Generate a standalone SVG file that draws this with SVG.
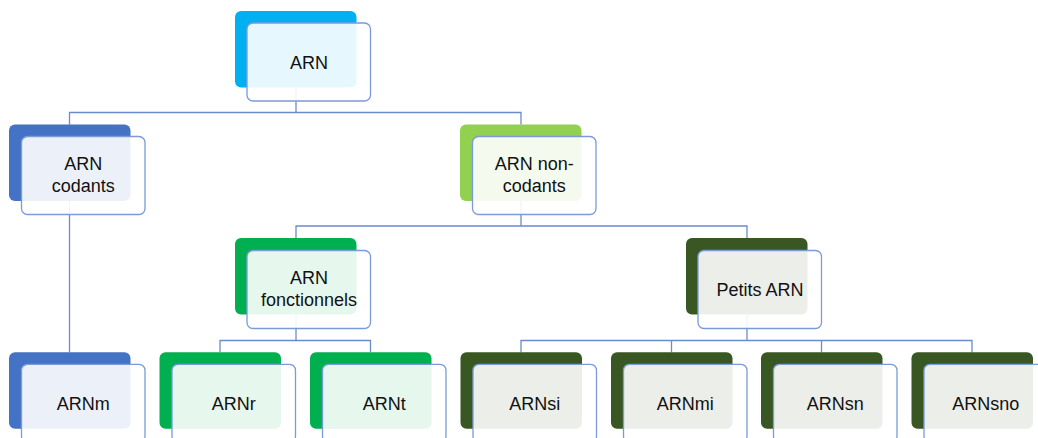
<svg xmlns="http://www.w3.org/2000/svg" width="1038" height="438" viewBox="0 0 1038 438">
<style>
.bk{stroke:none}
.fr{fill:#ffffff;fill-opacity:0.9;stroke:#7b9ad7;stroke-width:1.3}
.c1{fill:#00b0f0}.c2{fill:#4472c4}.c3{fill:#92d050}.c4{fill:#00b050}.c5{fill:#385723}
.con{fill:none;stroke:#6a8bcc;stroke-width:1.3}
text{font-family:"Liberation Sans",Arial,sans-serif;font-size:18px;fill:#111;text-anchor:middle}
</style>
<rect width="1038" height="438" fill="#ffffff"/>
<g id="connectors">
<path class="con" d="M296,87.5V112.5"/>
<path class="con" d="M69.5,124.5V112.5H521V124.5"/>
<path class="con" d="M69.5,201V352.3"/>
<path class="con" d="M521,201V226"/>
<path class="con" d="M296,238V226H747V238"/>
<path class="con" d="M296,315V340.5"/>
<path class="con" d="M220,352.3V340.5H370.5V352.3"/>
<path class="con" d="M747,315V340.5"/>
<path class="con" d="M521,352.3V340.5H972V352.3"/>
<path class="con" d="M671.5,340.5V352.3"/>
<path class="con" d="M821.5,340.5V352.3"/>
</g>
<g id="n-arn">
<rect class="bk c1" x="235" y="11" width="121.5" height="76.5" rx="6"/>
<rect class="fr" x="247" y="23" width="123.5" height="78" rx="6"/>
<text x="309" y="68.5">ARN</text>
</g>
<g id="n-codants">
<rect class="bk c2" x="9" y="124.5" width="121.5" height="76.5" rx="6"/>
<rect class="fr" x="21.5" y="136.5" width="123.5" height="78" rx="6"/>
<text x="83.3" y="170">ARN</text>
<text x="83.3" y="191.7">codants</text>
</g>
<g id="n-noncodants">
<rect class="bk c3" x="460" y="124.5" width="121.5" height="76.5" rx="6"/>
<rect class="fr" x="472.5" y="136.5" width="123.5" height="78" rx="6"/>
<text x="534.3" y="169.5">ARN non-</text>
<text x="534.3" y="191.7">codants</text>
</g>
<g id="n-fonctionnels">
<rect class="bk c4" x="235" y="238" width="121.5" height="76.5" rx="6"/>
<rect class="fr" x="247" y="250.5" width="123.5" height="78" rx="6"/>
<text x="309" y="283.5">ARN</text>
<text x="309" y="306">fonctionnels</text>
</g>
<g id="n-petits">
<rect class="bk c5" x="686" y="238" width="121.5" height="76.5" rx="6"/>
<rect class="fr" x="698" y="250.5" width="123.5" height="78" rx="6"/>
<text x="760" y="296">Petits ARN</text>
</g>
<g id="n-arnm">
<rect class="bk c2" x="9" y="352.3" width="121.5" height="76.5" rx="6"/>
<rect class="fr" x="21.5" y="364.3" width="123.5" height="78" rx="6"/>
<text x="83.3" y="410">ARNm</text>
</g>
<g id="n-arnr">
<rect class="bk c4" x="159.5" y="352.3" width="121.5" height="76.5" rx="6"/>
<rect class="fr" x="172" y="364.3" width="123.5" height="78" rx="6"/>
<text x="233.7" y="410">ARNr</text>
</g>
<g id="n-arnt">
<rect class="bk c4" x="310" y="352.3" width="121.5" height="76.5" rx="6"/>
<rect class="fr" x="322.5" y="364.3" width="123.5" height="78" rx="6"/>
<text x="384.3" y="410">ARNt</text>
</g>
<g id="n-arnsi">
<rect class="bk c5" x="460.5" y="352.3" width="121.5" height="76.5" rx="6"/>
<rect class="fr" x="473" y="364.3" width="123.5" height="78" rx="6"/>
<text x="534.8" y="410">ARNsi</text>
</g>
<g id="n-arnmi">
<rect class="bk c5" x="611" y="352.3" width="121.5" height="76.5" rx="6"/>
<rect class="fr" x="623.5" y="364.3" width="123.5" height="78" rx="6"/>
<text x="685.3" y="410">ARNmi</text>
</g>
<g id="n-arnsn">
<rect class="bk c5" x="761" y="352.3" width="121.5" height="76.5" rx="6"/>
<rect class="fr" x="773.5" y="364.3" width="123.5" height="78" rx="6"/>
<text x="835.3" y="410">ARNsn</text>
</g>
<g id="n-arnsno">
<rect class="bk c5" x="911.5" y="352.3" width="121.5" height="76.5" rx="6"/>
<rect class="fr" x="924" y="364.3" width="123.5" height="78" rx="6"/>
<text x="985.8" y="410">ARNsno</text>
</g>
</svg>
